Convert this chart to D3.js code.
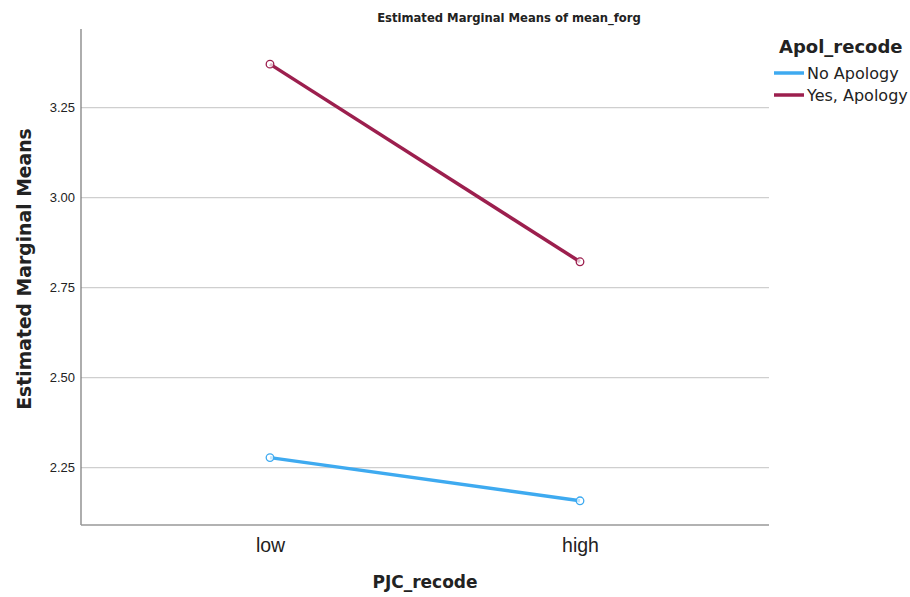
<!DOCTYPE html>
<html>
<head>
<meta charset="utf-8">
<script src="https://cdn.jsdelivr.net/npm/d3@7"></script>
<style>
  body { margin: 0; background: #fff; }
  svg { font-family: "DejaVu Sans", "Open Sans", sans-serif; }
</style>
</head>
<body>
<svg id="container" width="910" height="597"></svg>
<script>
// data
const categories = ["low", "high"]
const seriesNames = ["No Apology", "Yes, Apology"]
const noApology = [2.278, 2.158]
const yesApology = [3.371, 2.822]
const yTicks = [2.25, 2.50, 2.75, 3.00, 3.25]
const colors = ["#3eaaf0", "#9c1f4e"]

const setup = () => {
	const svg = d3.select("#container")
	const left = 81, right = 769, top = 29, bottom = 525

	const x = d3.scalePoint()
	            .domain(categories)
	            .range([270, 580])
	const y = d3.scaleLinear()
	            .domain([2.0908, 3.4686])
	            .range([bottom, top])

	// gridlines
	svg.append("g")
	   .selectAll("line")
	   .data(yTicks)
	   .join("line")
	   .attr("x1", left).attr("x2", right)
	   .attr("y1", d => y(d)).attr("y2", d => y(d))
	   .attr("stroke", "#cfcfcf")
	   .attr("stroke-width", 1.3)

	// y axis
	const yAxis = svg.append("g")
	   .attr("transform", `translate(${left},0)`)
	   .call(d3.axisLeft(y).tickValues(yTicks).tickFormat(d3.format(".2f")).tickSize(0).tickPadding(6))
	yAxis.select(".domain").remove()
	yAxis.selectAll("text").attr("font-size", 13).attr("fill", "#222")
	svg.append("line")
	   .attr("x1", left).attr("x2", left).attr("y1", top).attr("y2", bottom)
	   .attr("stroke", "#777").attr("stroke-width", 1.2)

	// x axis
	const xAxis = svg.append("g")
	   .attr("transform", `translate(0,${bottom})`)
	   .call(d3.axisBottom(x).tickSize(0).tickPadding(13))
	xAxis.select(".domain").remove()
	xAxis.selectAll("text").attr("font-size", 19.5).attr("fill", "#222")
	svg.append("line")
	   .attr("x1", left).attr("x2", right).attr("y1", bottom).attr("y2", bottom)
	   .attr("stroke", "#999").attr("stroke-width", 1.5)

	// lines
	const lineGenerator = d3.line()
	                        .x((d, i) => x(categories[i]))
	                        .y(d => y(d))
	const series = [noApology, yesApology]
	series.forEach((vals, s) => {
		svg.append("path")
		   .attr("d", lineGenerator(vals))
		   .attr("stroke", colors[s])
		   .attr("stroke-width", 3.5)
		   .attr("fill", "none")
		svg.append("g")
		   .selectAll("circle")
		   .data(vals)
		   .join("circle")
		   .attr("cx", (d, i) => x(categories[i]))
		   .attr("cy", d => y(d))
		   .attr("r", 3.8)
		   .attr("fill", "#fff")
		   .attr("fill-opacity", 0.7)
		   .attr("stroke", colors[s])
		   .attr("stroke-width", 1.3)
	})

	// title
	svg.append("text")
	   .attr("x", 509).attr("y", 22)
	   .attr("text-anchor", "middle")
	   .attr("font-size", 11.6).attr("font-weight", "bold")
	   .attr("fill", "#222")
	   .text("Estimated Marginal Means of mean_forg")

	// axis titles
	svg.append("text")
	   .attr("x", 425).attr("y", 588)
	   .attr("text-anchor", "middle")
	   .attr("font-size", 17).attr("font-weight", "bold")
	   .attr("fill", "#222")
	   .text("PJC_recode")
	svg.append("text")
	   .attr("transform", "translate(31,269) rotate(-90)")
	   .attr("text-anchor", "middle")
	   .attr("font-size", 18.8).attr("font-weight", "bold")
	   .attr("fill", "#222")
	   .text("Estimated Marginal Means")

	// legend
	svg.append("text")
	   .attr("x", 779).attr("y", 53)
	   .attr("font-size", 18).attr("font-weight", "bold")
	   .attr("fill", "#222")
	   .text("Apol_recode")
	seriesNames.forEach((name, i) => {
		const ly = 73 + i * 22
		svg.append("line")
		   .attr("x1", 774).attr("x2", 804)
		   .attr("y1", ly).attr("y2", ly)
		   .attr("stroke", colors[i]).attr("stroke-width", 3.5)
		svg.append("text")
		   .attr("x", 807).attr("y", ly + 6)
		   .attr("font-size", 16)
		   .attr("fill", "#222")
		   .text(name)
	})
}

document.addEventListener("DOMContentLoaded", setup)
</script>
</body>
</html>
